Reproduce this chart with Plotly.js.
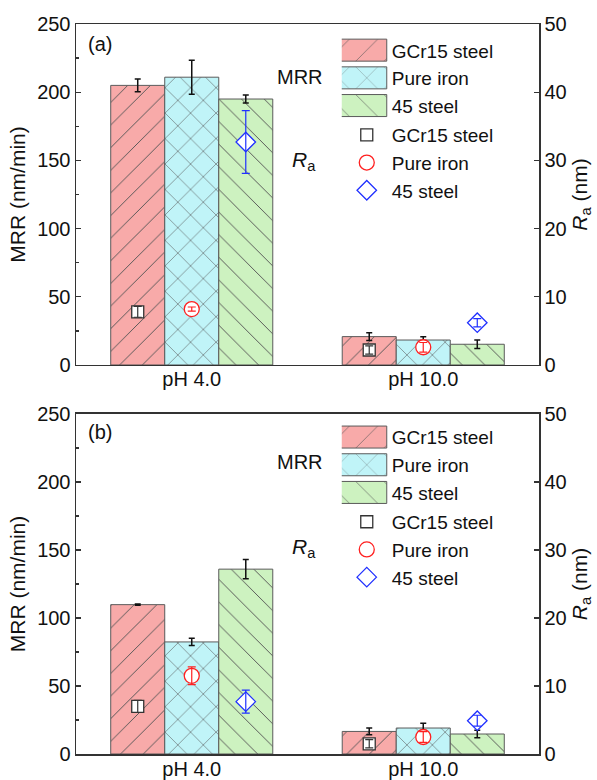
<!DOCTYPE html>
<html>
<head>
<meta charset="utf-8">
<script src="https://cdn.plot.ly/plotly-3.0.1.min.js"></script>
<style>html,body{margin:0;padding:0;background:#fff;}#chart{width:597px;height:780px;}</style>
</head>
<body>
<div id="chart"></div>
<script>
// ---- data ----
var categories = ['pH 4.0', 'pH 10.0'];
var materials = ['GCr15 steel', 'Pure iron', '45 steel'];

// Panel (a)
var a_mrr_gcr15 = [205.0, 20.8];
var a_mrr_gcr15_err = [4.6, 2.9];
var a_mrr_iron = [211.0, 18.3];
var a_mrr_iron_err = [12.5, 2.4];
var a_mrr_45 = [195.0, 15.2];
var a_mrr_45_err = [3.0, 3.1];
var a_ra_gcr15 = [7.8, 2.2];
var a_ra_gcr15_err = [0.8, 0.6];
var a_ra_iron = [8.2, 2.6];
var a_ra_iron_err = [0.3, 0.7];
var a_ra_45 = [32.7, 6.2];
var a_ra_45_err = [4.6, 0.6];

// Panel (b)
var b_mrr_gcr15 = [109.8, 16.6];
var b_mrr_gcr15_err = [0.5, 2.5];
var b_mrr_iron = [82.4, 19.1];
var b_mrr_iron_err = [2.7, 3.6];
var b_mrr_45 = [135.9, 14.7];
var b_mrr_45_err = [7.1, 2.7];
var b_ra_gcr15 = [7.0, 1.5];
var b_ra_gcr15_err = [0.9, 0.6];
var b_ra_iron = [11.5, 2.5];
var b_ra_iron_err = [1.3, 0.8];
var b_ra_45 = [7.7, 4.9];
var b_ra_45_err = [1.7, 0.8];

// ---- styles ----
var FONT = 'Liberation Sans, Arial, sans-serif';
var barFill = ['#f8aaa9', '#c0f4f8', '#cdf2c0'];
var patShape = ['/', 'x', '\\'];
var patSize = [16, 18, 16];
var mkSymbol = ['square', 'circle', 'diamond'];
var mkColor = ['#333333', '#ff2020', '#2030ff'];
var mkSize = [12, 15, 15];

function barTrace(name, y, err, i, xa, ya, leg) {
  return {
    type: 'bar', name: name, x: categories, y: y,
    xaxis: xa, yaxis: ya, legend: leg, offsetgroup: 'g' + i,
    marker: {color: barFill[i], line: {color: '#5a5a5a', width: 1},
      pattern: {shape: patShape[i], fillmode: 'overlay', bgcolor: barFill[i], fgcolor: '#555555',
        fgopacity: 1, size: patSize[i], solidity: 0.06}},
    error_y: {type: 'data', array: err, visible: true, color: '#111', thickness: 1.5, width: 3}
  };
}
function raTrace(name, y, i, xa, ya, leg) {
  return {
    type: 'scatter', mode: 'markers', name: name, x: categories, y: y,
    xaxis: xa, yaxis: ya, legend: leg, offsetgroup: 'g' + i,
    marker: {symbol: mkSymbol[i], size: mkSize[i], color: '#ffffff',
      line: {color: mkColor[i], width: 1.3}}
  };
}
function raErr(y, err, i, xa, ya) {
  return {
    type: 'scatter', mode: 'markers', x: categories, y: y, showlegend: false,
    xaxis: xa, yaxis: ya, offsetgroup: 'g' + i, hoverinfo: 'skip',
    marker: {size: 1, color: 'rgba(0,0,0,0)'},
    error_y: {type: 'data', array: err, visible: true, color: mkColor[i], thickness: 1.2, width: 4}
  };
}

var data = [
  barTrace(materials[0], a_mrr_gcr15, a_mrr_gcr15_err, 0, 'x', 'y', 'legend'),
  barTrace(materials[1], a_mrr_iron, a_mrr_iron_err, 1, 'x', 'y', 'legend'),
  barTrace(materials[2], a_mrr_45, a_mrr_45_err, 2, 'x', 'y', 'legend'),
  raTrace(materials[0], a_ra_gcr15, 0, 'x', 'y2', 'legend2'),
  raTrace(materials[1], a_ra_iron, 1, 'x', 'y2', 'legend2'),
  raTrace(materials[2], a_ra_45, 2, 'x', 'y2', 'legend2'),
  raErr(a_ra_gcr15, a_ra_gcr15_err, 0, 'x', 'y2'),
  raErr(a_ra_iron, a_ra_iron_err, 1, 'x', 'y2'),
  raErr(a_ra_45, a_ra_45_err, 2, 'x', 'y2'),

  barTrace(materials[0], b_mrr_gcr15, b_mrr_gcr15_err, 0, 'x2', 'y3', 'legend3'),
  barTrace(materials[1], b_mrr_iron, b_mrr_iron_err, 1, 'x2', 'y3', 'legend3'),
  barTrace(materials[2], b_mrr_45, b_mrr_45_err, 2, 'x2', 'y3', 'legend3'),
  raTrace(materials[0], b_ra_gcr15, 0, 'x2', 'y4', 'legend4'),
  raTrace(materials[1], b_ra_iron, 1, 'x2', 'y4', 'legend4'),
  raTrace(materials[2], b_ra_45, 2, 'x2', 'y4', 'legend4'),
  raErr(b_ra_gcr15, b_ra_gcr15_err, 0, 'x2', 'y4'),
  raErr(b_ra_iron, b_ra_iron_err, 1, 'x2', 'y4'),
  raErr(b_ra_45, b_ra_45_err, 2, 'x2', 'y4')
];

var LC = '#333333';
function xax(anchor) {
  return {anchor: anchor, domain: [0, 1], type: 'category', range: [-0.5, 1.5],
    showline: true, mirror: true, linecolor: LC, linewidth: 1.5, ticks: '',
    ticklabelstandoff: -4,
    showgrid: false, zeroline: false, tickfont: {size: 20, color: '#111'}};
}
function yleft(domain, anchor) {
  return {domain: domain, anchor: anchor, range: [0, 250], dtick: 50, tick0: 0,
    ticks: 'inside', ticklen: 5, tickwidth: 1.3, tickcolor: LC,
    minor: {dtick: 25, ticks: 'inside', ticklen: 3, tickcolor: LC},
    showline: true, linecolor: LC, linewidth: 1.5, showgrid: false, zeroline: false,
    tickfont: {size: 20, color: '#111'},
    title: {text: 'MRR (nm/min)', font: {size: 21, color: '#111'}, standoff: 6}};
}
function yright(over, anchor) {
  return {overlaying: over, anchor: anchor, side: 'right', range: [0, 50], dtick: 10, tick0: 0,
    ticks: 'inside', ticklen: 5, tickwidth: 1.3, tickcolor: LC,
    showline: true, linecolor: LC, linewidth: 1.5, showgrid: false, zeroline: false,
    tickfont: {size: 20, color: '#111'},
    title: {text: '<i>R</i><sub>a</sub> (nm)', font: {size: 21, color: '#111'}, standoff: 6}};
}
function leg(y) {
  return {x: 0.574, y: y, xanchor: 'left', yanchor: 'top', bgcolor: 'rgba(0,0,0,0)',
    borderwidth: 0, font: {size: 19, color: '#111', family: FONT}, itemwidth: 40,
    traceorder: 'normal'};
}

var layout = {
  width: 597, height: 780,
  margin: {l: 76, r: 58, t: 24, b: 26},
  paper_bgcolor: '#ffffff', plot_bgcolor: '#ffffff',
  font: {family: FONT, color: '#111'},
  barmode: 'group', bargap: 0.3, bargroupgap: 0,
  scattermode: 'group', scattergap: 0.3,
  xaxis: xax('y'),
  yaxis: yleft([0.5329, 1], 'x'),
  yaxis2: yright('y', 'x'),
  xaxis2: xax('y3'),
  yaxis3: yleft([0, 0.4658], 'x2'),
  yaxis4: yright('y3', 'x2'),
  legend: leg(0.99),
  legend2: leg(0.874),
  legend3: leg(0.46),
  legend4: leg(0.344),
  annotations: [
    {text: '(a)', xref: 'paper', yref: 'paper', x: 0.022, y: 0.9726, xanchor: 'left', yanchor: 'middle', showarrow: false, font: {size: 20}},
    {text: '(b)', xref: 'paper', yref: 'paper', x: 0.022, y: 0.441, xanchor: 'left', yanchor: 'middle', showarrow: false, font: {size: 20}},
    {text: 'MRR', xref: 'paper', yref: 'paper', x: (325 - 76) / 463, y: (754 - 77) / 730, xanchor: 'right', yanchor: 'middle', showarrow: false, font: {size: 20}},
    {text: '<i>R</i><sub>a</sub>', xref: 'paper', yref: 'paper', x: (318 - 76) / 463, y: (754 - 161) / 730, xanchor: 'right', yanchor: 'middle', showarrow: false, font: {size: 21}},
    {text: 'MRR', xref: 'paper', yref: 'paper', x: (325 - 76) / 463, y: (754 - 462) / 730, xanchor: 'right', yanchor: 'middle', showarrow: false, font: {size: 20}},
    {text: '<i>R</i><sub>a</sub>', xref: 'paper', yref: 'paper', x: (318 - 76) / 463, y: (754 - 548) / 730, xanchor: 'right', yanchor: 'middle', showarrow: false, font: {size: 21}}
  ]
};

var gd = document.getElementById('chart');
var scaledPatterns = {};
function isBarLegendPath(p) {
  var dat = p.__data__;
  var tr = dat && (dat.trace || (dat[0] && dat[0].trace));
  if (tr) return tr.type === 'bar';
  var cls = p.getAttribute('class') || '';
  if (cls.indexOf('scatterpts') >= 0) return false;
  var d = (p.getAttribute('d') || '').replace(/\s/g, '');
  return d === 'M6,6H-6V-6H6Z';
}
function widenSwatches() {
  // enlarge the bar-series legend swatches to the wide boxes of the original figure
  gd.querySelectorAll('g.legendpoints path').forEach(function (p) {
    if (!isBarLegendPath(p)) return;
    p.setAttribute('d', 'M20,11H-28V-11H20Z');
    var fill = p.style.fill || p.getAttribute('fill') || '';
    var m = fill.match(/url\(["']?#([^"')]+)["']?\)/);
    if (m && !scaledPatterns[m[1]]) {
      var pat = document.getElementById(m[1]);
      if (pat) {
        scaledPatterns[m[1]] = true;
        pat.setAttribute('patternTransform', 'scale(2)');
        pat.querySelectorAll('path, line').forEach(function (el) {
          var sw = parseFloat(el.style.strokeWidth || el.getAttribute('stroke-width') || '1');
          el.style.strokeWidth = (sw / 2) + 'px';
        });
      }
    }
  });
}
Plotly.newPlot(gd, data, layout, {staticPlot: true, displayModeBar: false}).then(function () {
  widenSwatches();
  setTimeout(widenSwatches, 0);
  setTimeout(widenSwatches, 50);
});
</script>
</body>
</html>
